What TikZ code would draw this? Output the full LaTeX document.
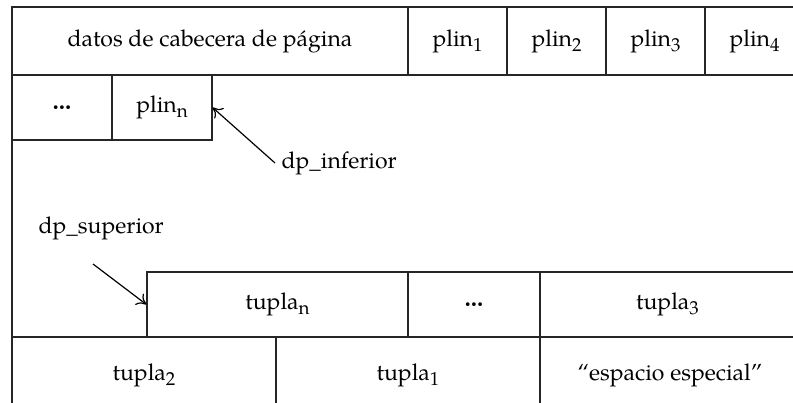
\documentclass[tikz,border=0pt]{standalone}
\usepackage{fontspec}
\setmainfont{TeX Gyre Pagella}
\usetikzlibrary{arrows.meta}
\newcommand\subind[1]{\raisebox{-2.6pt}{\fontsize{9.4}{10}\selectfont #1}}

\begin{document}
\begin{tikzpicture}[x=0.5pt, y=-0.5pt,
		line width=0.6pt,
		>={To[length=4.6pt,width=7pt]},
		font=\fontsize{11.5}{13}\selectfont,
		cell/.style={draw=black!85, inner sep=0pt,
			minimum width=50pt, minimum height=32.5pt},
		cab/.style={cell, minimum height=34pt},
		lbl/.style={inner sep=3pt}
		]
		\path[use as bounding box] (0,0) rectangle (793,402);
		\clip (0,0) rectangle (793,402);
		
		% La pagina
		\draw[black!85] (12,7) rectangle (810,420);
		
		% Cabecera
		\node[cab, minimum width=198pt] (cabecera) at (210,41) {datos de cabecera de página};
		\foreach \i/\x in {1/457.5, 2/556.5, 3/655.5, 4/754.5}
		\node[cab, minimum width=49.5pt] (plin\i) at (\x,41) {plin\subind{\i}};
		\node[cell] (pdots) at (62,107.5) {\textbf{\ldots}};
		\node[cell] (plinn) at (162,107.5) {plin\subind{n}};
		
		% Tuplas
		\node[cell, minimum width=130.5pt] (tuplan) at (277.5,304.5) {tupla\subind{n}};
		\node[cell, minimum width=66pt] (tdots) at (474,304.5) {\textbf{\ldots}};
		\node[cell, minimum width=127.5pt] (tupla3) at (667.5,304.5) {tupla\subind{3}};
		\node[cell, minimum width=132pt, minimum height=38pt] (tupla2) at (144,375) {tupla\subind{2}};
		\node[cell, minimum width=132pt, minimum height=38pt] (tupla1) at (408,375) {tupla\subind{1}};
		\node[cell, minimum width=130pt, minimum height=38pt] (especial) at (670,375) {“espacio especial”};
		
		% Punteros
		\node[lbl, anchor=west] (dpinf) at (275,163) {dp\_inferior};
		\node[lbl, anchor=west] (dpsup) at (32,228) {dp\_superior};
		\coordinate (supini) at (93,264);
		\draw[->] (dpinf.west) -- (plinn.east);
		\draw[->] (supini) -- (tuplan.west);
	\end{tikzpicture}
\end{document}
